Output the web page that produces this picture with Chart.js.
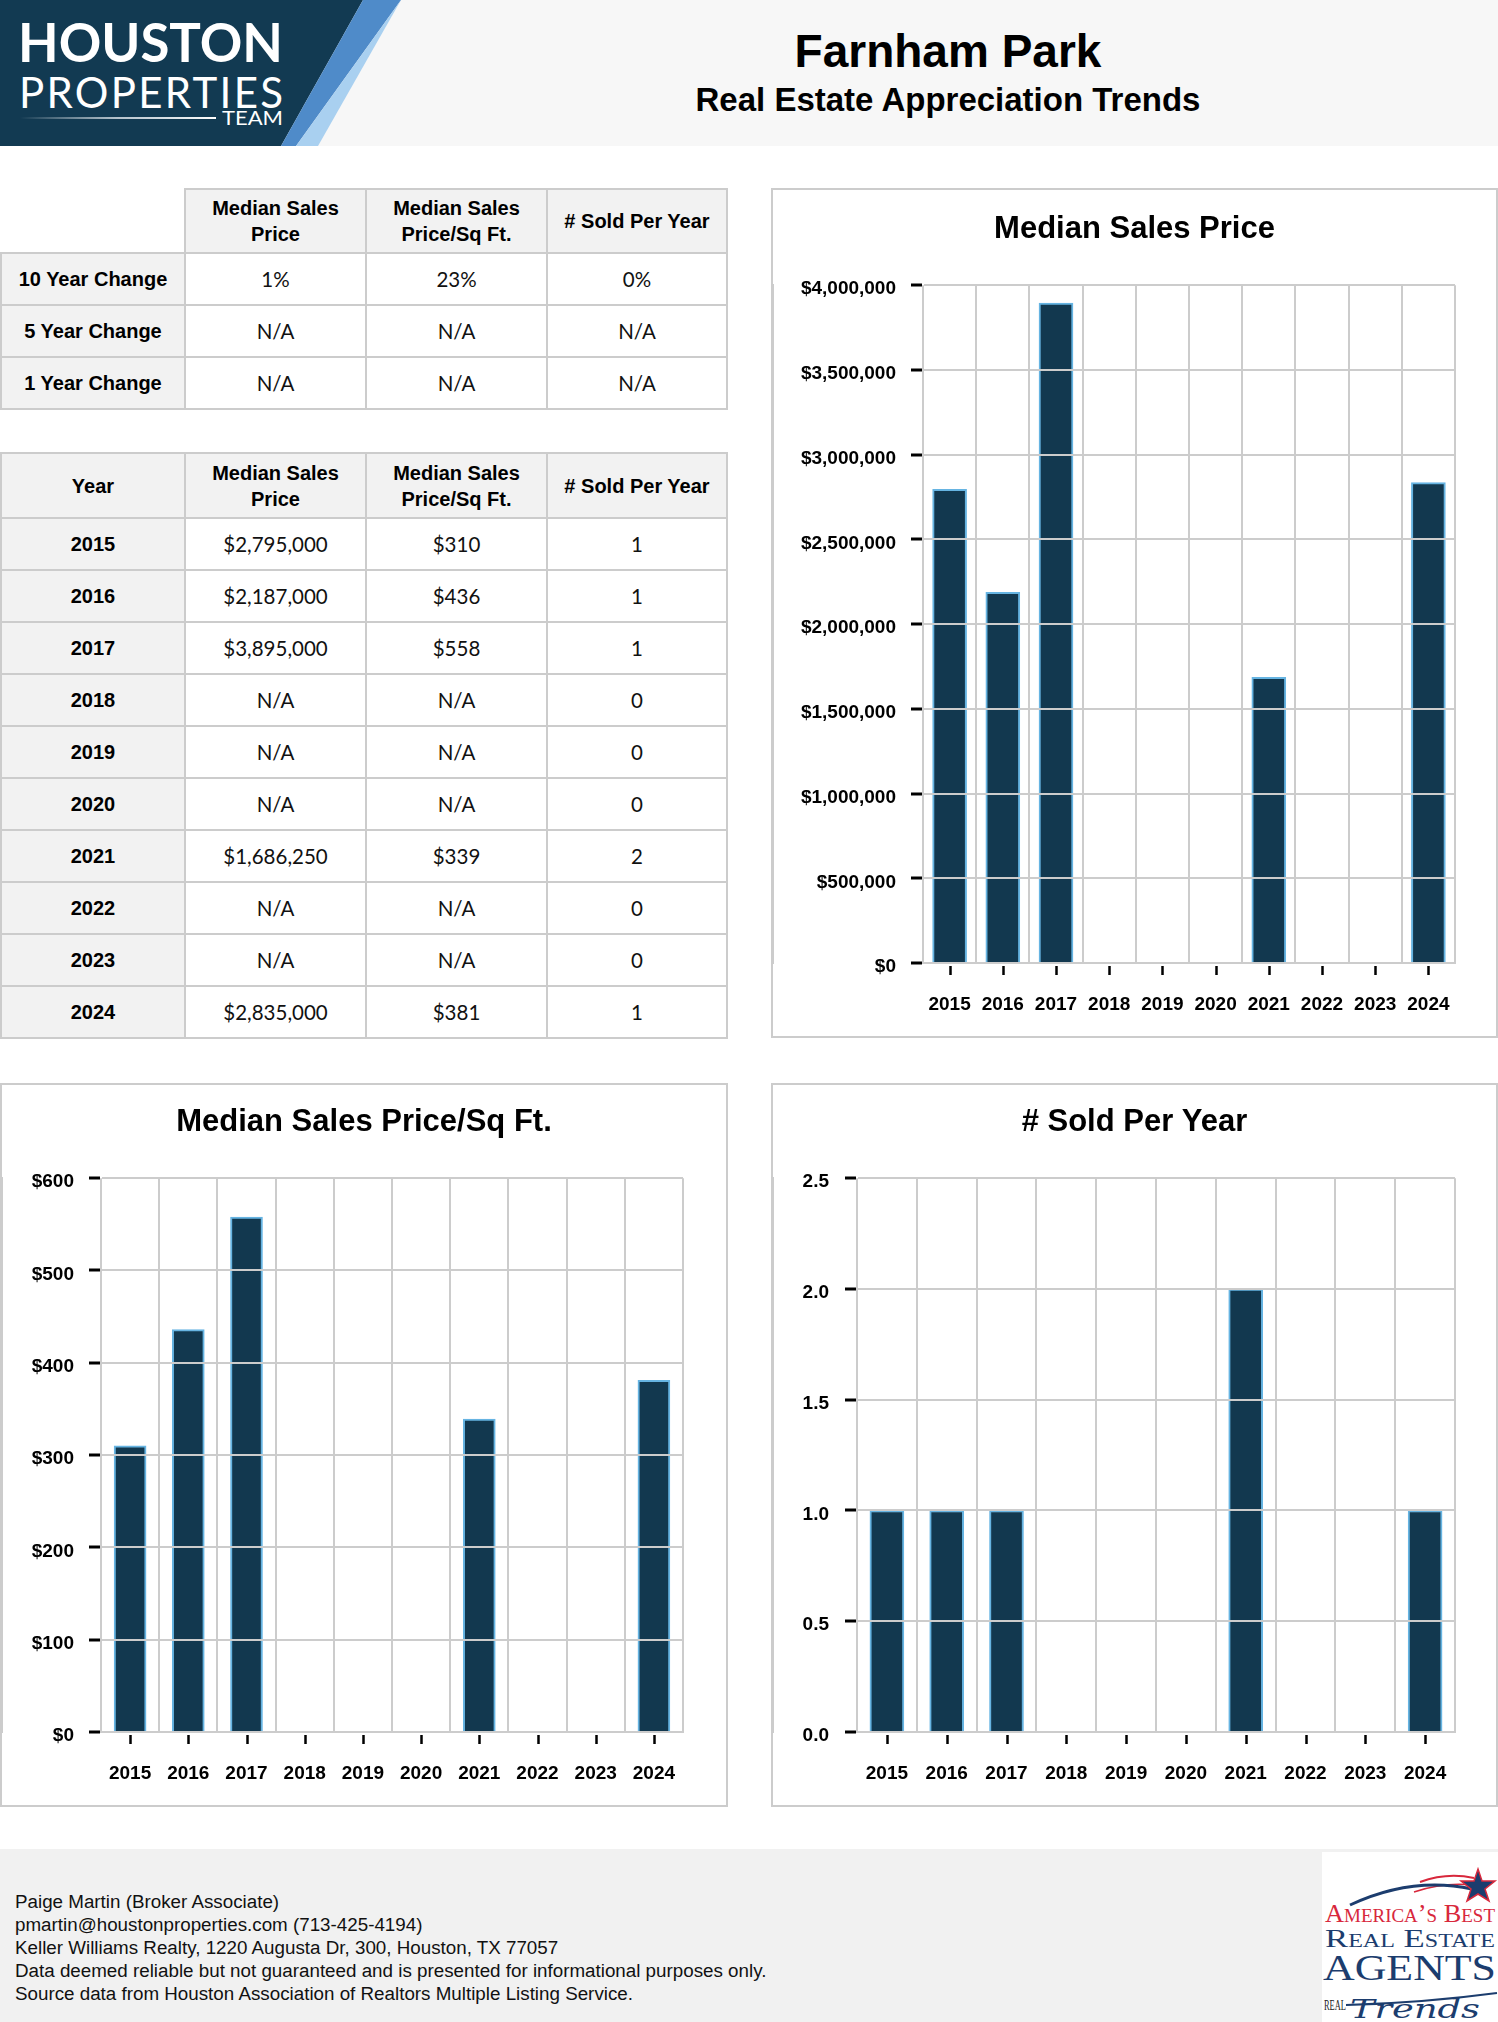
<!DOCTYPE html>
<html>
<head>
<meta charset="utf-8">
<title>Farnham Park - Real Estate Appreciation Trends</title>
<script src="https://cdn.jsdelivr.net/npm/chart.js@4.4.0/dist/chart.umd.min.js"></script>
<style>
  html, body { margin: 0; padding: 0; background: #fff; }
  body { width: 1498px; height: 2022px; position: relative; overflow: hidden;
         font-family: 'Liberation Sans', Arial, sans-serif; color: #000; }
  .cell { position: absolute; box-sizing: border-box; border: 2px solid #ccc; background: #fff;
          display: flex; align-items: center; justify-content: center; text-align: center;
          font-family: Lato, sans-serif; font-size: 20.5px; color: #111; }
  .cell.head { background: #f2f2f2; font-family: 'Liberation Sans', Arial, sans-serif;
               font-weight: bold; font-size: 20px; line-height: 26px; color: #000; }
  .box { position: absolute; box-sizing: border-box; border: 2px solid #ccc; background: #fff; }
  canvas { position: absolute; }
  #footer { position: absolute; left: 0; top: 1849px; width: 1498px; height: 173px; background: #f1f1f1; }
  #footerText { position: absolute; left: 15px; top: 41px; font-size: 18.8px; line-height: 23px; color: #111; white-space: nowrap; }
</style>
</head>
<body>

<svg class="header" width="1498" height="146" style="position:absolute;left:0;top:0">
  <defs>
    <linearGradient id="rule" x1="0" x2="1" y1="0" y2="0">
      <stop offset="0" stop-color="#ffffff" stop-opacity="0"/>
      <stop offset="0.5" stop-color="#dfe6ec" stop-opacity="0.8"/>
      <stop offset="1" stop-color="#ffffff"/>
    </linearGradient>
  </defs>
  <rect width="1498" height="146" fill="#f7f7f7"/>
  <polygon points="0,0 363,0 281,146 0,146" fill="#123a52"/>
  <polygon points="363,0 401,0 296,146 281,146" fill="#4f8bc9"/>
  <polygon points="401,0 296,146 318,146" fill="#a9d0f0"/>
  <text x="18" y="62" font-family="Lato" font-weight="700" font-size="53" fill="#fff"
        textLength="265" lengthAdjust="spacingAndGlyphs">HOUSTON</text>
  <text x="19" y="108" font-family="Lato" font-weight="400" font-size="42" fill="#fff"
        textLength="264" lengthAdjust="spacing">PROPERTIES</text>
  <rect x="20" y="117" width="196" height="2" fill="url(#rule)"/>
  <text x="222" y="125" font-family="Lato" font-weight="400" font-size="20" fill="#fff"
        textLength="61" lengthAdjust="spacingAndGlyphs">TEAM</text>
  <text x="948" y="67" text-anchor="middle" font-family="Liberation Sans, Arial" font-weight="bold"
        font-size="46" fill="#000">Farnham Park</text>
  <text x="948" y="111" text-anchor="middle" font-family="Liberation Sans, Arial" font-weight="bold"
        font-size="33" fill="#000">Real Estate Appreciation Trends</text>
</svg>

<div id="tables"></div>

<div class="box" style="left:771px;top:188px;width:727px;height:850px"></div>
<canvas id="priceChart" width="723" height="846" style="left:773px;top:190px"></canvas>

<div class="box" style="left:0;top:1083px;width:728px;height:724px"></div>
<canvas id="sqftChart" width="724" height="720" style="left:2px;top:1085px"></canvas>

<div class="box" style="left:771px;top:1083px;width:727px;height:724px"></div>
<canvas id="soldChart" width="723" height="720" style="left:773px;top:1085px"></canvas>

<div id="footer">
  <div id="footerText"></div>
  <svg width="178" height="170" style="position:absolute;left:1322px;top:3px">
    <rect width="178" height="170" fill="#fff"/>
    <path d="M 98 30 Q 125 20 152 26" stroke="#d8283c" stroke-width="2" fill="none"/>
    <path d="M 92 40 Q 122 30 150 33" stroke="#d8283c" stroke-width="1.5" fill="none"/>
    <path d="M 28 53 Q 90 24 150 37" stroke="#1c3d6e" stroke-width="3" fill="none"/>
    <polygon points="156,17 160,29 173,29 163,37 167,49 156,42 145,49 149,37 139,29 152,29"
             fill="#1c3d6e" stroke="#d8283c" stroke-width="1.5"/>
    <text x="3" y="70" font-family="Liberation Serif, serif" font-size="25" fill="#d8283c"
          style="font-variant: small-caps" textLength="170" lengthAdjust="spacingAndGlyphs">America’s Best</text>
    <text x="3" y="95" font-family="Liberation Serif, serif" font-size="26" fill="#1c3d6e"
          style="font-variant: small-caps" textLength="170" lengthAdjust="spacingAndGlyphs">Real Estate</text>
    <text x="1" y="128" font-family="Liberation Serif, serif" font-size="36" fill="#1c3d6e"
          textLength="173" lengthAdjust="spacingAndGlyphs">AGENTS</text>
    <text x="2" y="158" font-family="Liberation Serif, serif" font-size="15" fill="#222"
          textLength="22" lengthAdjust="spacingAndGlyphs">REAL</text>
    <text x="28" y="166" font-family="DejaVu Serif, serif" font-style="italic" font-size="26" fill="#1c3d6e"
          textLength="130" lengthAdjust="spacingAndGlyphs">Trends</text>
    <path d="M 24 153 Q 100 151 175 141" stroke="#1c3d6e" stroke-width="2" fill="none"/>
  </svg>
</div>

<script>
// ---- data ----
const years = ['2015', '2016', '2017', '2018', '2019', '2020', '2021', '2022', '2023', '2024'];
const medianPrice = [2795000, 2187000, 3895000, null, null, null, 1686250, null, null, 2835000];
const pricePerSqft = [310, 436, 558, null, null, null, 339, null, null, 381];
const soldPerYear = [1, 1, 1, 0, 0, 0, 2, 0, 0, 1];

const changeLabels = ['10 Year Change', '5 Year Change', '1 Year Change'];
const priceChange = ['1%', 'N/A', 'N/A'];
const sqftChange = ['23%', 'N/A', 'N/A'];
const soldChange = ['0%', 'N/A', 'N/A'];

const columnHeads = ['Median Sales<br>Price', 'Median Sales<br>Price/Sq Ft.', '# Sold Per Year'];

const priceTicks = { max: 4000000, step: 500000 };
const sqftTicks = { max: 600, step: 100 };
const soldTicks = { max: 2.5, step: 0.5 };

const footerLines = [
    'Paige Martin (Broker Associate)',
    'pmartin@houstonproperties.com (713-425-4194)',
    'Keller Williams Realty, 1220 Augusta Dr, 300, Houston, TX 77057',
    'Data deemed reliable but not guaranteed and is presented for informational purposes only.',
    'Source data from Houston Association of Realtors Multiple Listing Service.'
];

// ---- helpers ----
const FONT = "'Liberation Sans', Arial, sans-serif";
const GRID = '#cccccc';
const BAR_FILL = '#12384f';
const BAR_EDGE = '#66b4e2';

function money(v) {
    return '$' + v.toLocaleString('en-US');
}

function orNA(v, fmt) {
    return v === null || v === undefined ? 'N/A' : fmt(v);
}

// tables are laid out as absolutely placed cells on shared border lines
function drawTable(cols, rows, cells) {
    const host = document.getElementById('tables');
    cells.forEach((row, r) => {
        row.forEach((c, i) => {
            if (c === null) return;
            const el = document.createElement('div');
            el.className = 'cell' + (c.head ? ' head' : '');
            el.style.left = (cols[i] - 1) + 'px';
            el.style.top = (rows[r] - 1) + 'px';
            el.style.width = (cols[i + 1] - cols[i] + 2) + 'px';
            el.style.height = (rows[r + 1] - rows[r] + 2) + 'px';
            el.innerHTML = c.text;
            host.appendChild(el);
        });
    });
}

const cols = [1, 185, 366, 547, 727];

// change table
const t1 = [[null].concat(columnHeads.map(h => ({ text: h, head: true })))];
changeLabels.forEach((lbl, i) => {
    t1.push([{ text: lbl, head: true }, { text: priceChange[i] }, { text: sqftChange[i] }, { text: soldChange[i] }]);
});
drawTable(cols, [189, 253, 305, 357, 409], t1);

// yearly table
const t2 = [[{ text: 'Year', head: true }].concat(columnHeads.map(h => ({ text: h, head: true })))];
const rows2 = [453, 518];
years.forEach((y, i) => {
    t2.push([
        { text: y, head: true },
        { text: orNA(medianPrice[i], money) },
        { text: orNA(pricePerSqft[i], money) },
        { text: String(soldPerYear[i]) }
    ]);
    rows2.push(518 + 52 * (i + 1));
});
drawTable(cols, rows2, t2);

document.getElementById('footerText').innerHTML = footerLines.join('<br>');

// short black tick marks under each category centre
const centerTicks = {
    id: 'centerTicks',
    afterDraw(chart) {
        const { ctx, chartArea, scales: { x } } = chart;
        ctx.save();
        ctx.strokeStyle = '#000';
        ctx.lineWidth = 2.5;
        x.ticks.forEach((t, i) => {
            const px = Math.round(x.getPixelForTick(i)) + 0.5;
            ctx.beginPath();
            ctx.moveTo(px, chartArea.bottom + 3);
            ctx.lineTo(px, chartArea.bottom + 12);
            ctx.stroke();
        });
        ctx.restore();
    }
};

function initializeChart(id, title, values, o) {
    const canvas = document.getElementById(id);
    const tickFont = { family: FONT, size: 19, weight: 'bold' };
    return new Chart(canvas.getContext('2d'), {
        type: 'bar',
        data: {
            labels: years,
            datasets: [{
                data: values,
                backgroundColor: BAR_FILL,
                borderColor: BAR_EDGE,
                borderWidth: 2,
                borderSkipped: 'start',
                barThickness: o.bar
            }]
        },
        options: {
            responsive: false,
            animation: false,
            layout: { padding: 0 },
            plugins: {
                legend: { display: false },
                tooltip: { enabled: false },
                title: {
                    display: true,
                    text: title,
                    color: '#000',
                    font: { family: FONT, size: 31, weight: 'bold' },
                    padding: { top: o.titleTop, bottom: o.titleBottom }
                }
            },
            scales: {
                x: {
                    grid: { color: GRID, lineWidth: 2, offset: true, drawTicks: false },
                    border: { color: GRID, width: 2 },
                    ticks: { color: '#000', font: tickFont, padding: 30, maxRotation: 0, autoSkip: false },
                    afterFit: s => { s.height = o.xHeight; }
                },
                y: {
                    min: 0,
                    max: o.ticks.max,
                    grid: { color: GRID, lineWidth: 2, z: 1, tickColor: '#000', tickWidth: 3, tickLength: 12 },
                    border: { color: GRID, width: 2 },
                    ticks: { stepSize: o.ticks.step, color: '#000', font: tickFont, padding: o.yPad,
                             labelOffset: 4, callback: o.fmt },
                    afterFit: s => { s.width = o.yWidth; }
                },
                // empty right-hand gutter, keeps the title centred on the whole box
                gutter: {
                    type: 'linear',
                    axis: 'y',
                    position: 'right',
                    grid: { display: false, drawTicks: false },
                    border: { display: false },
                    ticks: { display: false },
                    afterFit: s => { s.width = o.side; }
                }
            }
        },
        plugins: [centerTicks]
    });
}

window.onload = function() {
    try {
        initializeChart('priceChart', 'Median Sales Price', medianPrice, {
            ticks: priceTicks, fmt: v => money(v), bar: 34,
            side: 41, yWidth: 150, yPad: 15, xHeight: 73, titleTop: 21, titleBottom: 37
        });
        initializeChart('sqftChart', 'Median Sales Price/Sq Ft.', pricePerSqft, {
            ticks: sqftTicks, fmt: v => money(v), bar: 32,
            side: 43, yWidth: 99, yPad: 15, xHeight: 73, titleTop: 19, titleBottom: 37
        });
        initializeChart('soldChart', '# Sold Per Year', soldPerYear.map(v => v || null), {
            ticks: soldTicks, fmt: v => v.toFixed(1), bar: 34,
            side: 41, yWidth: 84, yPad: 16, xHeight: 73, titleTop: 19, titleBottom: 37
        });
    } catch (error) {
        console.error('Error initializing charts:', error);
    }
};
</script>
</body>
</html>
